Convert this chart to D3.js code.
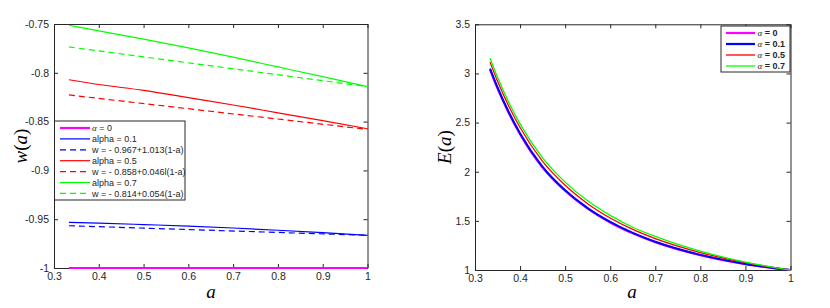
<!DOCTYPE html>
<html>
<head>
<meta charset="utf-8">
<script src="https://cdn.jsdelivr.net/npm/d3@7"></script>
<style>
  body { margin: 0; background: #fff; }
  text { font-family: "Liberation Sans", Arial, Helvetica, sans-serif; fill: #262626; }
  .lab { font-family: "Liberation Serif", "Times New Roman", serif; font-size: 19px; fill: #000; }
</style>
</head>
<body>
<div id="chart"></div>
<script>
// tick labels
const aTicks = [0.3, 0.4, 0.5, 0.6, 0.7, 0.8, 0.9, 1];
const wTicks = [-1, -0.95, -0.9, -0.85, -0.8, -0.75];
const eTicks = [1, 1.5, 2, 2.5, 3, 3.5];

// left panel, w(a)
const aW = [0.3333, 0.4, 0.5, 0.6, 0.7, 0.8, 0.9, 1];
const wAlpha0  = [-1, -1, -1, -1, -1, -1, -1, -1];
const wAlpha01 = [-0.9532, -0.9541, -0.9555, -0.957, -0.959, -0.9613, -0.9638, -0.9665];
const wAlpha05 = [-0.8071, -0.812, -0.818, -0.8255, -0.833, -0.841, -0.849, -0.8573];
const wAlpha07 = [-0.7513, -0.757, -0.7655, -0.7745, -0.784, -0.794, -0.804, -0.8142];
// straight fits (dashed)
const aFit = [0.3333, 1];
const wFit01 = [-0.9567, -0.9665];
const wFit05 = [-0.8227, -0.858];
const wFit07 = [-0.7735, -0.8142];

// right panel, E(a)
const aE = [0.3333, 0.35, 0.375, 0.4, 0.45, 0.5, 0.55, 0.6, 0.65, 0.7, 0.8, 0.9, 1];
const eAlpha0  = [3.04, 2.848, 2.597, 2.383, 2.043, 1.806, 1.625, 1.484, 1.373, 1.283, 1.151, 1.06, 1];
const eAlpha01 = [3.05, 2.857, 2.605, 2.39, 2.05, 1.812, 1.63, 1.489, 1.377, 1.287, 1.154, 1.062, 1];
const eAlpha05 = [3.115, 2.92, 2.667, 2.45, 2.105, 1.862, 1.675, 1.529, 1.413, 1.32, 1.178, 1.074, 1];
const eAlpha07 = [3.155, 2.96, 2.705, 2.487, 2.14, 1.894, 1.704, 1.556, 1.435, 1.342, 1.192, 1.08, 1];

const zip = (xs, ys) => xs.map((x, i) => [x, ys[i]]);

const svg = d3.select("#chart").append("svg")
  .attr("width", 830).attr("height", 308);

// draws a boxed matlab-like axes, returns scales and group
function panel(x0, x1, y0, y1, xDom, yDom, xt, yt){
  let x = d3.scaleLinear().domain(xDom).range([x0, x1]),
      y = d3.scaleLinear().domain(yDom).range([y1, y0]);
  let g = svg.append("g");
  g.append("rect").attr("x", x0).attr("y", y0).attr("width", x1 - x0).attr("height", y1 - y0)
   .attr("fill", "#fff");
  let fmt = d => String(+d.toFixed(2));
  g.append("g").attr("transform", "translate(0," + y1 + ")")
   .call(d3.axisBottom(x).tickValues(xt).tickFormat(fmt).tickSizeInner(-4).tickSizeOuter(0).tickPadding(5));
  g.append("g").attr("transform", "translate(0," + y0 + ")")
   .call(d3.axisTop(x).tickValues(xt).tickFormat("").tickSizeInner(-4).tickSizeOuter(0));
  g.append("g").attr("transform", "translate(" + x0 + ",0)")
   .call(d3.axisLeft(y).tickValues(yt).tickFormat(fmt).tickSizeInner(-4).tickSizeOuter(0).tickPadding(5));
  g.append("g").attr("transform", "translate(" + x1 + ",0)")
   .call(d3.axisRight(y).tickValues(yt).tickFormat("").tickSizeInner(-4).tickSizeOuter(0));
  g.selectAll(".domain, .tick line").attr("stroke", "#262626");
  g.selectAll(".tick text").attr("font-size", 10.5).attr("fill", "#262626")
   .style("font-family", "'Liberation Sans', Arial, sans-serif");
  return {x, y, g};
}

function drawLine(p, pts, color, w, dash){
  let line = d3.line().x(d => p.x(d[0])).y(d => p.y(d[1])).curve(d3.curveMonotoneX);
  p.g.append("path").datum(pts)
   .attr("d", line).attr("fill", "none")
   .attr("stroke", color).attr("stroke-width", w)
   .attr("stroke-dasharray", dash || null);
}

// LEFT PANEL
let L = panel(54, 367.5, 24, 268, [0.3, 1], [-1, -0.75], aTicks, wTicks);
drawLine(L, zip(aW, wAlpha01), "#0000ff", 1.2);
drawLine(L, zip(aFit, wFit01), "#0000ff", 1.2, "6,4");
drawLine(L, zip(aW, wAlpha05), "#ff0000", 1.2);
drawLine(L, zip(aFit, wFit05), "#ff0000", 1.2, "6,4");
drawLine(L, zip(aW, wAlpha07), "#00ff00", 1.2);
drawLine(L, zip(aFit, wFit07), "#00ff00", 1.2, "6,4");
drawLine(L, zip(aW, wAlpha0), "#ff00ff", 2);

// legend left
let legL = [
  {t: "α = 0", c: "#ff00ff", w: 2.2, greek: true},
  {t: "alpha = 0.1", c: "#0000ff", w: 1.2},
  {t: "w = - 0.967+1.013(1-a)", c: "#0000ff", w: 1.2, d: "6,4"},
  {t: "alpha = 0.5", c: "#ff0000", w: 1.2},
  {t: "w = - 0.858+0.046l(1-a)", c: "#ff0000", w: 1.2, d: "6,4"},
  {t: "alpha = 0.7", c: "#00ff00", w: 1.2},
  {t: "w = - 0.814+0.054(1-a)", c: "#00ff00", w: 1.2, d: "6,4"}
];
function legend(items, bx, by, bw, bh, lx0, lx1, tx, ry0, rstep, fs, bold){
  let g = svg.append("g");
  g.append("rect").attr("x", bx).attr("y", by).attr("width", bw).attr("height", bh)
   .attr("fill", "#fff").attr("stroke", "#262626").attr("stroke-width", 1);
  items.forEach((it, i) => {
    let yy = ry0 + i * rstep;
    g.append("line").attr("x1", lx0).attr("x2", lx1).attr("y1", yy).attr("y2", yy)
     .attr("stroke", it.c).attr("stroke-width", it.w).attr("stroke-dasharray", it.d || null);
    let t = g.append("text").attr("x", tx).attr("y", yy).attr("dy", "0.35em")
     .attr("font-size", fs).attr("fill", "#000").attr("font-weight", bold ? "bold" : null);
    if(it.greek){
      t.append("tspan").text("α").style("font-family", "'Liberation Serif', serif")
       .attr("font-style", "italic").attr("font-weight", "normal");
      t.append("tspan").text(it.t.slice(1));
    } else t.text(it.t);
  });
}
legend(legL, 54.5, 121, 130.5, 79, 60, 90, 92, 128, 10.9, 9, false);

// RIGHT PANEL
let R = panel(475, 790.5, 24.3, 270, [0.3, 1], [1, 3.5], aTicks, eTicks);
drawLine(R, zip(aE, eAlpha0), "#ff00ff", 2.2);
drawLine(R, zip(aE, eAlpha01), "#0000ff", 2);
drawLine(R, zip(aE, eAlpha05), "#ff0000", 1.3);
drawLine(R, zip(aE, eAlpha07), "#00ff00", 1.3);

let legR = [
  {t: "α = 0", c: "#ff00ff", w: 2.2, greek: true},
  {t: "α = 0.1", c: "#0000ff", w: 2.2, greek: true},
  {t: "α = 0.5", c: "#ff0000", w: 1.3, greek: true},
  {t: "α = 0.7", c: "#00ff00", w: 1.3, greek: true}
];
legend(legR, 721, 26, 69, 46, 726, 755, 757.5, 33, 11, 9, true);

// axis labels
function axLabel(x, y, rot, parts){
  let t = svg.append("text").attr("class", "lab")
    .attr("text-anchor", "middle")
    .attr("transform", "translate(" + x + "," + y + ")" + (rot ? " rotate(-90)" : ""));
  parts.forEach(p => t.append("tspan").text(p[0]).attr("font-style", p[1] ? "italic" : "normal"));
}
axLabel(211, 298, false, [["a", 1]]);
axLabel(27, 146, true, [["w", 1], ["(", 0], ["a", 1], [")", 0]]);
axLabel(632, 298, false, [["a", 1]]);
axLabel(451, 147, true, [["E", 1], ["(", 0], ["a", 1], [")", 0]]);
</script>
</body>
</html>
